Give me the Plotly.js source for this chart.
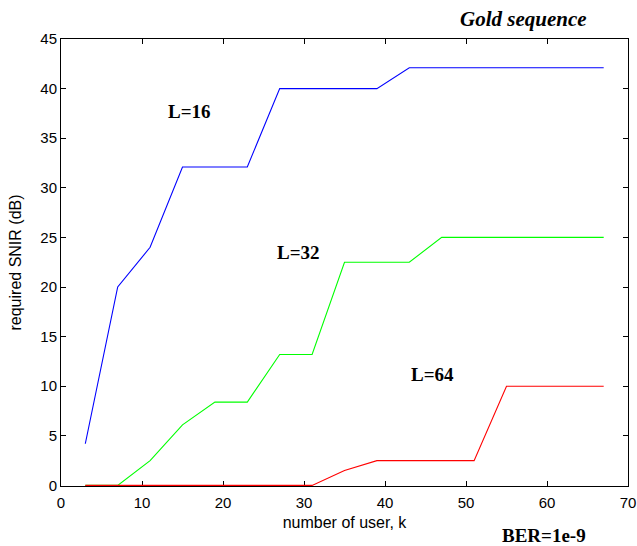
<!DOCTYPE html>
<html>
<head>
<meta charset="utf-8">
<script src="https://cdn.plot.ly/plotly-3.0.1.min.js"></script>
<style>html,body{margin:0;padding:0;background:#fff;}#chart{width:637px;height:546px;}</style>
</head>
<body>
<div id="chart"></div>
<script>
// number of users k
const users = [3, 7, 11, 15, 19, 23, 27, 31, 35, 39, 43, 47, 51, 55, 59, 63, 67];
// required SNIR (dB) per spreading length
const snirL16 = [4.2, 20, 24, 32.1, 32.1, 32.1, 40, 40, 40, 40, 42.1, 42.1, 42.1, 42.1, 42.1, 42.1, 42.1];
const snirL32 = [0, 0, 2.5, 6.1, 8.4, 8.4, 13.2, 13.2, 22.5, 22.5, 22.5, 25, 25, 25, 25, 25, 25];
const snirL64 = [0, 0, 0, 0, 0, 0, 0, 0, 1.5, 2.5, 2.5, 2.5, 2.5, 10, 10, 10, 10];
const seriesNames = ['L=16', 'L=32', 'L=64'];
const labelX = [15.9, 29.3, 45.9];
const labelY = [37.7, 23.5, 11.2];

const serif = '"Liberation Serif", "Times New Roman", serif';
const sans = '"Liberation Sans", Arial, sans-serif';

const traces = [
  {x: users, y: snirL16, name: seriesNames[0], mode: 'lines', line: {color: '#0000ff', width: 1.1}},
  {x: users, y: snirL32, name: seriesNames[1], mode: 'lines', line: {color: '#00ff00', width: 1.1}},
  {x: users, y: snirL64, name: seriesNames[2], mode: 'lines', line: {color: '#ff0000', width: 1.1}}
];

const annotations = seriesNames.map((n, i) => ({
  x: labelX[i], y: labelY[i], xref: 'x', yref: 'y', text: '<b>' + n + '</b>',
  xanchor: 'center', yanchor: 'middle',
  showarrow: false, font: {family: serif, size: 19, color: '#000'}
}));
annotations.push({
  x: 0.815, y: 1.045, xref: 'paper', yref: 'paper', text: '<b><i>Gold sequence</i></b>',
  xanchor: 'center', yanchor: 'middle',
  showarrow: false, font: {family: serif, size: 21, color: '#000'}
});
annotations.push({
  x: 0.852, y: -0.110, xref: 'paper', yref: 'paper', text: '<b>BER=1e-9</b>',
  xanchor: 'center', yanchor: 'middle',
  showarrow: false, font: {family: serif, size: 19, color: '#000'}
});

const axisCommon = {
  showline: true, linecolor: '#000', linewidth: 1, mirror: 'ticks',
  ticks: 'inside', ticklen: 5, tickcolor: '#000', tickwidth: 1,
  showgrid: false, zeroline: false, layer: 'below traces',
  tickfont: {family: sans, size: 15, color: '#000'}
};

const layout = {
  width: 637, height: 546,
  margin: {l: 61, r: 9, t: 39, b: 60},
  paper_bgcolor: '#fff', plot_bgcolor: '#fff',
  showlegend: false,
  xaxis: Object.assign({}, axisCommon, {
    range: [0, 70], dtick: 10, tick0: 0, ticklabelstandoff: 3,
    title: {text: 'number of user, k', font: {family: sans, size: 16, color: '#000'}, standoff: 6}
  }),
  yaxis: Object.assign({}, axisCommon, {
    range: [-0.06, 45], dtick: 5, tick0: 0,
    title: {text: 'required SNIR (dB)', font: {family: sans, size: 16, color: '#000'}, standoff: 14}
  }),
  annotations: annotations
};

Plotly.newPlot('chart', traces, layout, {staticPlot: true, displayModeBar: false});
</script>
</body>
</html>
